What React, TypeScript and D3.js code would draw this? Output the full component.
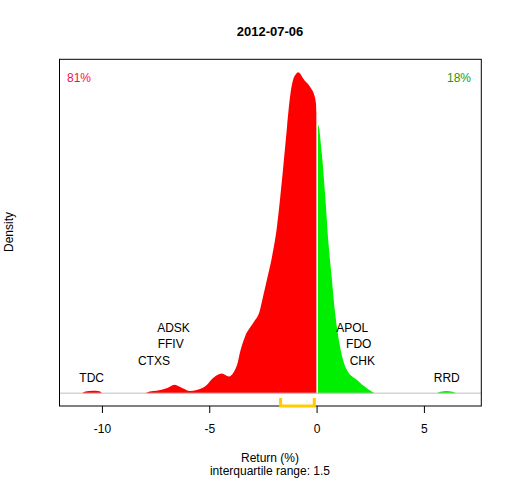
import React from 'react';
import * as d3 from 'd3';

// density of daily returns
const returns = [
  -10.95, -10.8, -10.47, -10.14, -10.0, -8.04, -7.8, -7.48, -7.01, -6.64, -6.26, -5.93, -5.61,
  -5.14, -4.86, -4.44, -4.11, -3.88, -3.69, -3.6, -3.36, -2.99, -2.66, -2.52, -2.34, -2.1,
  -1.87, -1.73, -1.59, -1.4, -1.26, -1.12, -1.0, -0.89, -0.77, -0.65, -0.33, -0.09, 0,
  0.05, 0.22, 0.37, 0.53, 0.68, 0.84, 1.07, 1.39, 1.86, 2.32, 2.62, 2.72,
  5.56, 5.75, 6.03, 6.31, 6.5,
];
const density = [
  0, 0.0019, 0.0026, 0.0021, 0, 0, 0.0019, 0.0027, 0.0053, 0.0093, 0.0053, 0.0024, 0.0035,
  0.0089, 0.0162, 0.0215, 0.0182, 0.0231, 0.034, 0.0437, 0.0616, 0.0762, 0.0907, 0.105, 0.1234, 0.1488,
  0.1815, 0.2106, 0.2433, 0.2905, 0.3232, 0.3414, 0.3475, 0.35, 0.3478, 0.3432, 0.334, 0.3214, 0.305,
  0.292, 0.2617, 0.218, 0.1637, 0.1265, 0.0874, 0.0507, 0.0253, 0.0144, 0.0053, 0.0008, 0,
  0, 0.0016, 0.0024, 0.0016, 0,
];

const leftNames = ['TDC', 'CTXS', 'FFIV', 'ADSK'];
const leftRets = [-10.5, -7.6, -6.82, -6.69];
const rightNames = ['RRD', 'CHK', 'FDO', 'APOL'];
const rightRets = [6.04, 2.11, 1.94, 1.64];

const quartiles = [-1.7, -0.13];
const xTicks = [-10, -5, 0, 5];
const downPct = '81%';
const upPct = '18%';

const W = 512;
const H = 480;
const font = 'Liberation Sans, Arial, sans-serif';

const App = () => {
  const x = d3.scaleLinear().domain([-12.0, 7.65]).range([59.5, 481.3]);
  const y = d3.scaleLinear().domain([-0.014, 0.364]).range([406, 59.3]);

  const pts = returns.map((r, i) => ({ r, d: density[i] }));
  const area = d3
    .area<{ r: number; d: number }>()
    .x((p) => x(p.r))
    .y0(y(0))
    .y1((p) => y(p.d))
    .curve(d3.curveMonotoneX);

  const down = pts.filter((p) => p.r <= 0);
  const up = pts.filter((p) => p.r > 0);
  // green part starts right at zero
  const upPts = [{ r: 0, d: up[0].d }, ...up];

  const base = y(0);
  const label = (name: string, r: number, tier: number) => (
    <text
      key={name}
      x={x(r)}
      y={base - 11.5 - tier * 16.7}
      textAnchor="middle"
      fontSize={12}
    >
      {name}
    </text>
  );

  return (
    <svg
      width={W}
      height={H}
      style={{ position: 'absolute', left: 0, top: 0 }}
      fontFamily={font}
    >
      <rect width={W} height={H} fill="white" />
      <text x={270} y={36} textAnchor="middle" fontSize={13} fontWeight="bold">
        2012-07-06
      </text>

      <path d={area(down) ?? ''} fill="#ff0000" />
      <path d={area(upPts) ?? ''} fill="#00ee00" />
      <line x1={x(0)} x2={x(0)} y1={base} y2={60.5} stroke="white" strokeWidth={1.5} />
      <line x1={59.5} x2={481.3} y1={base} y2={base} stroke="#bebebe" strokeWidth={1} />

      {leftNames.map((n, i) => label(n, leftRets[i], i))}
      {rightNames.map((n, i) => label(n, rightRets[i], i))}

      <text x={67} y={82} fontSize={12} fill="#f5103f">
        {downPct}
      </text>
      <text x={471} y={82} fontSize={12} fill="#1a9a1a" textAnchor="end">
        {upPct}
      </text>

      <rect x={59.5} y={59.3} width={421.8} height={346.7} fill="none" stroke="black" strokeWidth={1} />

      <path
        d={`M${x(quartiles[0])},398 V406 H${x(quartiles[1])} V398`}
        fill="none"
        stroke="#ffcc00"
        strokeWidth={3}
      />

      {xTicks.map((t) => (
        <g key={t}>
          <line x1={x(t)} x2={x(t)} y1={406} y2={413} stroke="black" />
          <text x={x(t)} y={432.5} textAnchor="middle" fontSize={12}>
            {t}
          </text>
        </g>
      ))}

      <text x={270} y={461.5} textAnchor="middle" fontSize={12}>
        Return (%)
      </text>
      <text x={270} y={475} textAnchor="middle" fontSize={12}>
        interquartile range: 1.5
      </text>
      <text
        transform="translate(13,232) rotate(-90)"
        textAnchor="middle"
        fontSize={12}
      >
        Density
      </text>
    </svg>
  );
};

export default App;
